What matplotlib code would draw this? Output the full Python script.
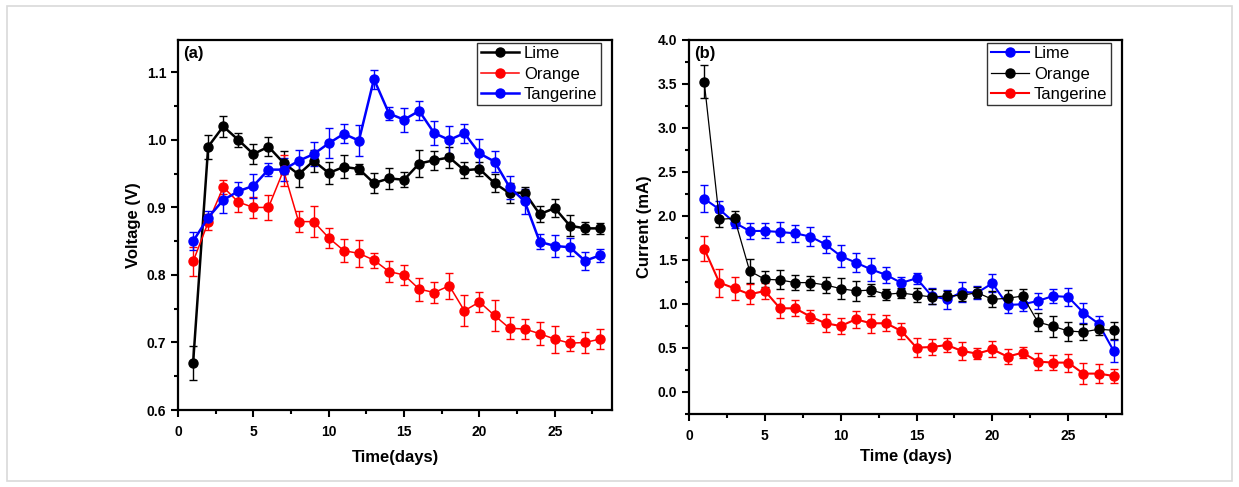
import matplotlib.pyplot as plt
import numpy as np
from matplotlib.patches import Rectangle

plt.rcParams['font.family'] = ['Liberation Sans', 'DejaVu Sans']

days = np.arange(1, 29)

# ---------------- panel (a): voltage ----------------
v_lime = [0.670, 0.990, 1.020, 1.000, 0.979, 0.990, 0.966, 0.949, 0.969, 0.951,
          0.960, 0.957, 0.936, 0.943, 0.941, 0.965, 0.970, 0.974, 0.955, 0.957,
          0.936, 0.921, 0.922, 0.890, 0.899, 0.873, 0.869, 0.869]
v_lime_err = [0.025, 0.018, 0.015, 0.010, 0.015, 0.014, 0.017, 0.018, 0.016, 0.016,
              0.017, 0.008, 0.015, 0.016, 0.011, 0.020, 0.014, 0.016, 0.012, 0.011,
              0.013, 0.015, 0.009, 0.012, 0.013, 0.016, 0.009, 0.008]
v_orange = [0.820, 0.878, 0.930, 0.908, 0.900, 0.900, 0.955, 0.879, 0.879, 0.855,
            0.836, 0.832, 0.822, 0.805, 0.800, 0.779, 0.774, 0.784, 0.747, 0.760,
            0.740, 0.721, 0.720, 0.713, 0.705, 0.699, 0.700, 0.705]
v_orange_err = [0.022, 0.012, 0.010, 0.015, 0.016, 0.019, 0.023, 0.015, 0.023, 0.015,
                0.017, 0.020, 0.011, 0.016, 0.015, 0.017, 0.016, 0.019, 0.023, 0.015,
                0.023, 0.016, 0.015, 0.017, 0.020, 0.011, 0.016, 0.015]
v_tang = [0.850, 0.885, 0.911, 0.924, 0.932, 0.956, 0.956, 0.969, 0.979, 0.995,
          1.009, 0.999, 1.090, 1.039, 1.030, 1.043, 1.010, 1.000, 1.010, 0.980,
          0.968, 0.930, 0.909, 0.849, 0.843, 0.841, 0.821, 0.829]
v_tang_err = [0.013, 0.009, 0.019, 0.013, 0.018, 0.010, 0.017, 0.016, 0.018, 0.022,
              0.014, 0.023, 0.014, 0.010, 0.018, 0.014, 0.018, 0.021, 0.014, 0.022,
              0.016, 0.017, 0.019, 0.011, 0.016, 0.013, 0.013, 0.010]

# ---------------- panel (b): current ----------------
i_lime = [2.197, 2.076, 1.924, 1.830, 1.830, 1.818, 1.803, 1.766, 1.678, 1.545,
          1.470, 1.394, 1.330, 1.240, 1.292, 1.091, 1.053, 1.136, 1.129, 1.235,
          0.989, 0.997, 1.034, 1.091, 1.080, 0.902, 0.777, 0.466]
i_lime_err = [0.150, 0.100, 0.060, 0.087, 0.085, 0.114, 0.100, 0.108, 0.100, 0.120,
              0.110, 0.130, 0.090, 0.070, 0.060, 0.093, 0.108, 0.114, 0.076, 0.104,
              0.089, 0.072, 0.095, 0.083, 0.099, 0.114, 0.089, 0.125]
i_orange = [3.527, 1.962, 1.974, 1.375, 1.281, 1.273, 1.243, 1.243, 1.216, 1.175,
            1.148, 1.159, 1.110, 1.125, 1.102, 1.080, 1.091, 1.099, 1.129, 1.053,
            1.065, 1.091, 0.795, 0.747, 0.693, 0.682, 0.713, 0.701]
i_orange_err = [0.190, 0.083, 0.080, 0.136, 0.090, 0.108, 0.085, 0.080, 0.095, 0.120,
                0.110, 0.070, 0.066, 0.060, 0.076, 0.085, 0.060, 0.070, 0.060, 0.090,
                0.093, 0.080, 0.100, 0.117, 0.108, 0.089, 0.060, 0.095]
i_tang = [1.629, 1.243, 1.178, 1.110, 1.148, 0.951, 0.951, 0.857, 0.781, 0.750,
          0.826, 0.781, 0.781, 0.693, 0.504, 0.511, 0.534, 0.466, 0.436, 0.485,
          0.402, 0.447, 0.345, 0.334, 0.334, 0.209, 0.209, 0.182]
i_tang_err = [0.142, 0.160, 0.130, 0.114, 0.089, 0.114, 0.089, 0.078, 0.104, 0.090,
              0.098, 0.110, 0.090, 0.090, 0.108, 0.095, 0.080, 0.104, 0.066, 0.089,
              0.085, 0.066, 0.095, 0.083, 0.102, 0.117, 0.108, 0.080]

fig = plt.figure(figsize=(12.39, 4.87), dpi=100)
# thin grey frame around the whole picture
fig.patches.append(Rectangle((0.006, 0.012), 0.988, 0.975, transform=fig.transFigure,
                             fill=False, edgecolor='#d9d9d9', linewidth=1.2))

ax1 = fig.add_axes([0.1437, 0.1581, 0.3503, 0.7598])
ax2 = fig.add_axes([0.5561, 0.1499, 0.3495, 0.7680])


def series(ax, y, err, color, label, lw):
    ax.errorbar(days, y, yerr=err, color=color, ecolor=color, elinewidth=1.0,
                capsize=3, capthick=1.0, linewidth=lw, marker='o', markersize=6.5,
                markerfacecolor=color, markeredgecolor=color, label=label)


series(ax1, v_lime, v_lime_err, 'black', 'Lime', 1.8)
series(ax1, v_orange, v_orange_err, 'red', 'Orange', 1.1)
series(ax1, v_tang, v_tang_err, 'blue', 'Tangerine', 1.8)

series(ax2, i_lime, i_lime_err, 'blue', 'Lime', 1.5)
series(ax2, i_orange, i_orange_err, 'black', 'Orange', 0.9)
series(ax2, i_tang, i_tang_err, 'red', 'Tangerine', 1.5)

ax1.set_xlim(0, 28.8)
ax1.set_ylim(0.6, 1.148)
ax1.set_yticks([0.6, 0.7, 0.8, 0.9, 1.0, 1.1])
ax1.set_yticks(np.arange(0.65, 1.15, 0.1), minor=True)
ax1.set_ylabel('Voltage (V)', fontsize=12, fontweight='bold')
ax1.set_xlabel('Time(days)', fontsize=12, fontweight='bold', labelpad=8)
ax1.text(0.012, 0.985, '(a)', transform=ax1.transAxes, fontsize=12,
         fontweight='bold', va='top', ha='left')

ax2.set_xlim(0, 28.55)
ax2.set_ylim(-0.25, 4.0)
ax2.set_yticks(np.arange(0, 4.01, 0.5))
ax2.set_yticks(np.arange(-0.25, 4.0, 0.5), minor=True)
ax2.set_ylabel('Current (mA)', fontsize=12, fontweight='bold')
ax2.set_xlabel('Time (days)', fontsize=12, fontweight='bold', labelpad=4)
ax2.text(0.012, 0.985, '(b)', transform=ax2.transAxes, fontsize=12,
         fontweight='bold', va='top', ha='left')

for ax in (ax1, ax2):
    ax.set_xticks([0, 5, 10, 15, 20, 25])
    ax.set_xticks(np.arange(2.5, 28.6, 5), minor=True)
    ax.tick_params(which='major', direction='out', length=5, width=1.5, labelsize=10)
    ax.tick_params(axis='x', which='major', pad=6)
    ax.tick_params(which='minor', direction='out', length=3, width=1.5)
    ax.yaxis.set_major_formatter(plt.FormatStrFormatter('%.1f'))
    for lab in ax.get_xticklabels() + ax.get_yticklabels():
        lab.set_fontweight('bold')
    for sp in ax.spines.values():
        sp.set_linewidth(1.6)
    # legend shows only line + marker, no error bar caps
    handles, labels = ax.get_legend_handles_labels()
    handles = [h[0] for h in handles]
    leg = ax.legend(handles, labels, loc='upper right', fontsize=12, frameon=True,
                    fancybox=False, handlelength=2.3, labelspacing=0.32,
                    borderpad=0.2, handletextpad=0.3, borderaxespad=0.0,
                    bbox_to_anchor=(0.974, 0.992))
    leg.get_frame().set_edgecolor('black')
    leg.get_frame().set_linewidth(1.0)

fig.savefig('out.png', dpi=100)
